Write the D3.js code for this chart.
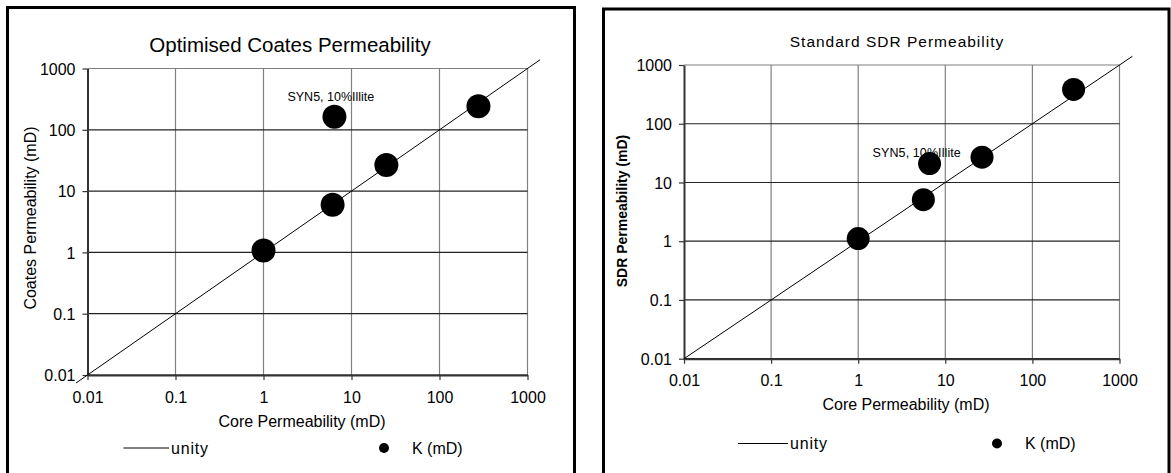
<!DOCTYPE html>
<html><head><meta charset="utf-8">
<script src="https://cdn.jsdelivr.net/npm/d3@7"></script>
<style>
html,body{margin:0;padding:0;background:#fff;}
svg{display:block;font-family:"Liberation Sans",Arial,sans-serif;}
</style></head>
<body>
<svg id="c" width="1171" height="473"></svg>
<script>
// ---- data ----
const tickValues = [0.01, 0.1, 1, 10, 100, 1000];
const tickLabels = ["0.01", "0.1", "1", "10", "100", "1000"];

const coatesCore = [1.0, 6.1, 6.4, 24.9, 277];
const coatesPerm = [1.07, 6.0, 163, 26.7, 243];
const coatesLabels = ["", "", "SYN5, 10%Illite", "", ""];

const sdrCore = [1.0, 5.6, 6.6, 26.4, 297];
const sdrPerm = [1.11, 5.1, 21, 27, 384];
const sdrLabels = ["", "", "SYN5, 10%Illite", "", ""];

const unityCoates = [0.0074, 1390];
const unityRight = [0.01, 1410];

const legendNames = ["unity", "K (mD)"];

// ---- layout ----
const charts = [
  {title:"Optimised Coates Permeability", ytitle:"Coates Permeability (mD)", xtitle:"Core Permeability (mD)",
   core:coatesCore, perm:coatesPerm, labels:coatesLabels, unity:unityCoates,
   box:{x:7.5,y:7.5,w:567,h:520}, plot:{l:87.5,r:527.5,t:68.5,b:375},
   titleX:290, titleY:45, titleSize:20.5, titleSpacing:0, titleWeight:"normal",
   ytX:30, ytY:218, ytSize:16, ytWeight:"normal",
   xtY:421, xtX:302, tickLabY:397,
   labelDx:-47, labelDy:-20, labelSpacing:0, r:12,
   leg:{y:448, x1:123.5, x2:169, tx:171, dx:384, kx:412}},
  {title:"Standard SDR Permeability", ytitle:"SDR Permeability (mD)", xtitle:"Core Permeability (mD)",
   core:sdrCore, perm:sdrPerm, labels:sdrLabels, unity:unityRight,
   box:{x:603.5,y:9,w:565.5,h:520}, plot:{l:684,r:1119.5,t:65,b:358.7},
   titleX:897, titleY:42, titleSize:15.5, titleSpacing:1, titleWeight:"normal",
   ytX:622, ytY:211, ytSize:14, ytWeight:"bold",
   xtY:404, xtX:906, tickLabY:380,
   labelDx:-57, labelDy:-10.5, labelSpacing:0.1, r:11.5,
   leg:{y:443.5, x1:738, x2:788, tx:790, dx:997, kx:1025}}
];

const svg = d3.select("#c");

charts.forEach(c => {
  const g = svg.append("g");
  const x = d3.scaleLog().domain([0.01, 1000]).range([c.plot.l, c.plot.r]);
  const y = d3.scaleLog().domain([0.01, 1000]).range([c.plot.b, c.plot.t]);

  // outer box
  g.append("rect").attr("x", c.box.x).attr("y", c.box.y).attr("width", c.box.w).attr("height", c.box.h)
    .attr("fill", "none").attr("stroke", "#000").attr("stroke-width", 3);

  // vertical gridlines
  g.append("g").selectAll("line").data(tickValues.slice(1)).join("line")
    .attr("x1", d => x(d)).attr("x2", d => x(d)).attr("y1", c.plot.t).attr("y2", c.plot.b)
    .attr("stroke", "#808080").attr("stroke-width", 1.2);
  // horizontal gridlines
  g.append("g").selectAll("line").data(tickValues.slice(0, -1)).join("line")
    .attr("x1", c.plot.l).attr("x2", c.plot.r).attr("y1", d => y(d)).attr("y2", d => y(d))
    .attr("stroke", "#222").attr("stroke-width", 1.2);
  // top gridline (1000)
  g.append("line").attr("x1", c.plot.l).attr("x2", c.plot.r).attr("y1", y(1000)).attr("y2", y(1000))
    .attr("stroke", "#808080").attr("stroke-width", 1.2);

  // axes
  const xAxis = d3.axisBottom(x).tickValues(tickValues).tickFormat((d, i) => tickLabels[i]).tickSize(5).tickSizeOuter(0);
  const yAxis = d3.axisLeft(y).tickValues(tickValues).tickFormat((d, i) => tickLabels[i]).tickSize(5).tickSizeOuter(0);
  const gx = g.append("g").attr("transform", `translate(0,${c.plot.b})`).call(xAxis);
  const gy = g.append("g").attr("transform", `translate(${c.plot.l},0)`).call(yAxis);
  [gx, gy].forEach(a => {
    a.select(".domain").attr("stroke", "#333").attr("stroke-width", 2);
    a.selectAll(".tick line").attr("stroke", "#333").attr("stroke-width", 1.2);
    a.selectAll(".tick text").attr("font-size", 16).attr("fill", "#000")
      .attr("font-family", '"Liberation Sans",Arial,sans-serif');
  });
  gx.selectAll(".tick text").attr("y", null).attr("dy", null)
    .attr("transform", `translate(0,${c.tickLabY - c.plot.b})`).attr("dominant-baseline", "central");
  gy.selectAll(".tick text").attr("x", -12).attr("dy", "0.35em");

  // unity line
  g.append("line").attr("x1", x(c.unity[0])).attr("y1", y(c.unity[0]))
    .attr("x2", x(c.unity[1])).attr("y2", y(c.unity[1]))
    .attr("stroke", "#000").attr("stroke-width", 1);

  // point labels
  const pts = c.core.map((v, i) => ({x: v, y: c.perm[i], label: c.labels[i]}));
  g.append("g").selectAll("text").data(pts.filter(p => p.label)).join("text")
    .attr("x", p => x(p.x) + c.labelDx).attr("y", p => y(p.y) + c.labelDy)
    .attr("dy", "0.35em").attr("font-size", 12.5).attr("letter-spacing", c.labelSpacing).text(p => p.label);

  // points
  g.append("g").selectAll("circle").data(pts).join("circle")
    .attr("cx", p => x(p.x)).attr("cy", p => y(p.y)).attr("r", c.r).attr("fill", "#000");

  // titles
  g.append("text").attr("x", c.titleX).attr("y", c.titleY).attr("dy", "0.35em").attr("text-anchor", "middle")
    .attr("font-size", c.titleSize).attr("letter-spacing", c.titleSpacing).attr("font-weight", c.titleWeight).text(c.title);
  g.append("text").attr("transform", `translate(${c.ytX},${c.ytY}) rotate(-90)`).attr("dy", "0.35em")
    .attr("text-anchor", "middle").attr("font-size", c.ytSize).attr("font-weight", c.ytWeight).text(c.ytitle);
  g.append("text").attr("x", c.xtX).attr("y", c.xtY).attr("dy", "0.35em").attr("text-anchor", "middle")
    .attr("font-size", 16).text(c.xtitle);

  // legend
  const L = c.leg;
  g.append("line").attr("x1", L.x1).attr("x2", L.x2).attr("y1", L.y).attr("y2", L.y).attr("stroke", "#000").attr("stroke-width", 1);
  g.append("text").attr("x", L.tx).attr("y", L.y).attr("dy", "0.35em").attr("font-size", 16).attr("letter-spacing", 0.8).text(legendNames[0]);
  g.append("circle").attr("cx", L.dx).attr("cy", L.y).attr("r", 5).attr("fill", "#000");
  g.append("text").attr("x", L.kx).attr("y", L.y).attr("dy", "0.35em").attr("font-size", 16).text(legendNames[1]);
});
</script>
</body></html>
